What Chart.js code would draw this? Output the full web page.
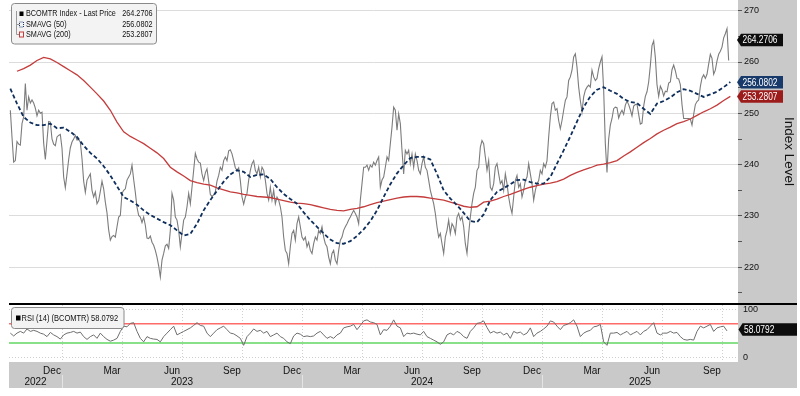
<!DOCTYPE html>
<html>
<head>
<meta charset="utf-8">
<script src="https://cdn.jsdelivr.net/npm/chart.js@4.4.1/dist/chart.umd.min.js"></script>
<style>
  html, body { margin: 0; padding: 0; background: #fff; }
  #wrap { position: relative; width: 800px; height: 396px; overflow: hidden; }
  #priceChart { position: absolute; left: 0; top: 0; }
  #rsiChart { position: absolute; left: 0; top: 303px; }
</style>
</head>
<body>
<div id="wrap">
  <canvas id="priceChart" width="797" height="303"></canvas>
  <canvas id="rsiChart" width="797" height="93"></canvas>
</div>
<script>
const FONT = "'Liberation Sans', Arial, sans-serif";
const MONTHS = ['Jan', 'Feb', 'Mar', 'Apr', 'May', 'Jun', 'Jul', 'Aug', 'Sep', 'Oct', 'Nov', 'Dec'];

// x is in months since 1 Jan 2022; first observation ~13 Oct 2022
const firstObs = 12 - 31 / 12;
const priceStep = 1 / 12;
const smaStep = 1 / 3;
const rsiStep = 1 / 6;
const xMin = 9.35;
const xMax = 45.8;

const price = [
  250.6, 245.4, 240.5, 240.8, 244.5, 244, 243.8, 248, 249.3, 255.8,
  250.6, 253.2, 252, 252.6, 252, 251, 249.5, 250.6, 250, 250.2,
  244.2, 241, 244.7, 248.4, 248.3, 245, 244, 243.7, 245.4, 245.7,
  245.9, 243.2, 237.6, 235.5, 238.2, 241, 243.3, 244.4, 245, 245.7,
  244.8, 244.9, 244.4, 241.2, 236.8, 234.6, 237, 237.6, 238.2, 235,
  233.7, 234.7, 232.4, 233, 234.8, 236.8, 235.3, 232.7, 230.6, 227.3,
  225.3, 226, 226.2, 225.9, 227.9, 229.8, 230.1, 234.4, 235, 235.3,
  237, 237.6, 238.2, 239.9, 237.1, 234.6, 231.7, 230.1, 229.8, 228.7,
  229.8, 228.2, 225.7, 225.6, 226.1, 224.9, 224.3, 223.3, 222, 220.3,
  218.1, 221.4, 222.7, 224.2, 224.5, 223.7, 227.2, 234.4, 233.1, 229.8,
  229.2, 227.2, 224, 226.6, 229.2, 229.8, 231.8, 234.4, 232.4, 235.6,
  238.9, 242.2, 241.1, 240.5, 240.3, 238.2, 236.9, 238.4, 239.2, 236.8,
  234.2, 233.8, 234.1, 234.7, 236.8, 237.9, 239.5, 238.9, 240.8, 241.5,
  240.8, 242.7, 242.9, 242.1, 240.8, 239.4, 238.9, 239.4, 236.9, 233.7,
  232.3, 233.7, 234.4, 237,
  238.9, 240.2, 240.8, 238.9, 238.2, 239.5, 237.6, 239.5, 238.9, 237,
  234.4, 233.1, 235.6, 233.1, 235, 232.4, 233.7, 233.1, 231.8, 229.8,
  225.9, 223.3, 222.7, 220.7, 224, 226.6, 227.2, 225.3, 228.5, 229.8,
  227.9, 225.9, 225.3, 225.9, 224, 224.9, 223.3, 222.7, 224.6, 225.9,
  225.3, 227.2, 226.6, 227.9, 225.9, 224.6, 224, 222, 220.7, 222.7,
  223.3, 221.4, 220.7, 223.3, 225.3, 225.9, 227.2, 227.9, 228.5, 229.2,
  229.8, 230.5, 231.1, 230.5, 229.8, 228.5, 233.1, 236.3, 239.5, 239.5,
  239.9, 238.9, 239.9, 239.5, 240.5, 239.9, 240.8, 241.5, 235.6, 237,
  237.6, 239.5, 241.5, 240.8, 244.1, 247.3, 251.2, 250.6, 246.7, 249.9,
  248, 242.8, 238.2, 242.8, 242.1, 242.8, 240.2, 242.1, 239.5, 242.1,
  240.8, 238.9, 238.2, 240.2, 241.5, 239.5, 238.9, 237, 235, 233.7,
  232.4, 230.5, 227.9, 225.9, 226.6, 224.6, 222.7, 225.9, 227.2, 229.2,
  226.6, 228.5, 227.9, 226.6, 229.8, 230.5, 229.2, 229.8, 227.9, 224.6,
  222.7, 226.6, 229.8, 232.4, 234.4, 235.6, 238.9, 239.5, 243.4, 244.7,
  244.1, 241.5, 238.9, 240.8,
  235.6, 235, 236.3, 239.5, 240.2, 238.2, 236.3, 236.9, 235, 238.2,
  236.3, 233.7, 231.8, 230.5, 233.7, 236.9, 237.9, 235.6, 236.3, 233.7,
  235, 236.9, 237.6, 240.2, 238.2, 236.3, 233.1, 235, 236.3, 236.9,
  238.9, 238.2, 240.2, 239.5, 240.8, 245.4, 249.3, 251.9, 252.2, 250.6,
  250.9, 248.6, 247, 248.6, 250.6, 252.5, 253.2, 256.4, 257.1, 258.4,
  261, 261.6, 259, 255.1, 252.5, 250.3, 253.2, 254.5, 255.1, 255.5,
  255.1, 258.4, 257.1, 256.4, 256.8, 258.7, 260, 261, 254.5, 244.1,
  238.5, 245, 247.7, 249, 250.9, 251.2, 251.1, 249.1, 250, 250.6,
  249.8, 251.6, 252.4, 251.7, 250.7, 249.5, 251.4, 251.7, 251.8, 249.8,
  247.9, 248.1, 251.4, 253.3, 254.2, 256.1, 259.3, 263.2, 264.1, 260.9,
  255.6, 253.3, 255.3, 254.6, 253.4, 254.3, 254.2, 255.9, 256.1, 258.5,
  259.4, 258.3, 256.8, 256.7, 255.6, 251.7, 249, 249, 249, 249,
  248.9, 247.7, 249.8, 251.7, 252.3, 252.6, 255.2, 256.9, 257.5, 256.8,
  257.6, 259.6, 261.5, 260.7, 257.6, 258.4, 260.2, 261.5, 262.1, 262.9,
  264.7, 265.5, 266.5, 260.3
];

const sma50 = [
  254.8, 251.9, 249.3, 248.2, 247.7, 247.7, 248, 247.1, 247.2, 246.4,
  245.4, 243.7, 242.3, 241.2, 239.7, 237.9, 235.8, 233.7, 233, 232.2,
  231.1, 230.2, 229.5, 228.8, 228.2, 227.2, 226.2, 226.5, 228.5, 231.1,
  233.1, 234.9, 236.7, 238.1, 238.9, 238.6,
  237.6, 238, 238.1, 237.2, 235.6, 234.3, 233.3, 232.4, 230.7, 229.2,
  227.9, 226.6, 225.4, 224.7, 224.6, 225.1, 226.1, 227.4, 229, 231.1,
  233.7, 236.2, 238.3, 239.9, 241.3, 241.5, 241.5, 241, 238.2, 235,
  233.4, 232.1, 230.6, 229, 228.8, 230.3,
  233.1, 234.7, 235.4, 236.2, 237, 237.1, 236.6, 236.3, 236.3, 237.6,
  240.2, 242.8, 245.5, 248.4, 251.2, 253.3, 254.6, 255.1, 254.4, 253.8,
  252.8, 252.2, 252, 250.9, 249.9, 251.9, 252.4, 253.1, 254.1, 254.7,
  254.4, 253.8, 253.2, 253.7, 254.2, 255.1, 256.1
];

const sma200 = [
  null, 258.2, 258.7, 259.4, 260.3, 260.9, 260.6, 259.9, 259.1, 258.3,
  257.5, 256.4, 255.1, 253.8, 252.4, 250.6, 248.3, 246.4, 245.5, 244.8,
  244.1, 243.2, 242.3, 241.2, 239.5, 238.6, 237.8, 236.9, 236.5, 236.2,
  236, 235.5, 235.1, 234.7, 234.5, 234.2,
  234, 233.8, 233.7, 233.6, 233.3, 233, 232.7, 232.5, 232.4, 232.2,
  231.9, 231.6, 231.3, 231.1, 231, 231.3, 231.5, 231.8, 232.2, 232.6,
  232.9, 233.2, 233.5, 233.7, 233.8, 233.8, 233.7, 233.5, 233.3, 233.1,
  232.7, 232.3, 231.9, 231.7, 231.8, 232.7,
  232.9, 233.3, 233.8, 234.2, 234.7, 235.2, 235.6, 235.9, 236.2, 236.4,
  236.7, 237.2, 237.9, 238.5, 239, 239.4, 239.9, 240.1, 240.4, 240.8,
  241.7, 242.5, 243.4, 244.3, 245.1, 246, 246.7, 247.3, 248, 248.4,
  248.9, 249.6, 250.3, 250.9, 251.6, 252.5, 253.3
];

const rsi = [
  50.4, 44.5, 50.4, 54, 50.4, 59.1, 54, 56.2, 54, 50.4,
  48.2, 43.1, 51.8, 46.7, 43.1, 38, 46.7, 50.4, 51.8, 54,
  50.4, 52.5, 43.1, 37.3, 43.1, 46.7, 39.5, 50.4, 43.1, 37.3,
  33.6, 35.8, 39.5, 54, 64.9, 63.5, 70.7, 72.2, 54, 39.5,
  32.2, 43.1, 39.5, 38, 37.3, 32.2, 43.1, 50.4, 57.6, 64.9,
  46.7, 50.4, 54, 57.6, 61.3, 66.4, 72.2, 66.4, 64.9, 50.4,
  43.1, 50.4, 57.6, 61.3, 64.9, 57.6, 50.4, 48.9, 44.5, 39.5,
  24.9, 43.1,
  50.4, 59.1, 54, 56.2, 50.4, 54, 43.1, 46.7, 50.4, 43.1,
  39.5, 32.2, 28.5, 44.5, 50.4, 48.2, 43.1, 44.5, 43.1, 44.5,
  50.4, 54, 46.7, 39.5, 43.1, 39.5, 46.7, 50.4, 61.3, 63.5,
  64.9, 68.5, 57.6, 66.4, 75.8, 78, 73.6, 72.2, 68.5, 46.7,
  57.6, 56.2, 64.9, 78, 64.9, 61.3, 43.1, 50.4, 48.9, 50.4,
  48.2, 46.7, 54, 43.1, 39.5, 35.8, 32.2, 27.1, 32.2, 46.7,
  50.4, 46.7, 54, 50.4, 43.1, 39.5, 54, 61.3, 70.7, 72.2,
  75.8, 62,
  50.4, 54, 50.4, 52.5, 46.7, 50.4, 39.5, 54, 50.4, 52.5,
  46.7, 50.4, 61.3, 43.1, 50.4, 54, 59.1, 64.9, 75.8, 73.6,
  64.9, 57.6, 66.4, 68.5, 72.2, 78, 64.9, 43.1, 50.4, 54,
  56.2, 63.5, 64.9, 68.5, 32.2, 24.9, 50.4, 50.4, 51.8, 46.7,
  50.4, 54, 46.7, 50.4, 54, 46.7, 54, 57.6, 64.9, 72.2,
  50.4, 46.7, 50.4, 50.4, 54, 50.4, 51.8, 43.1, 37.3, 35.8,
  37.3, 35.8, 54, 64.9, 61.3, 64.9, 68.5, 54, 61.3, 63.5,
  64.9, 55
];

const lastPrice = 264.2706;
const lastSma50 = 256.0802;
const lastSma200 = 253.2807;
const lastRsi = 58.0792;

const priceTicks = [215, 220, 225, 230, 235, 240, 245, 250, 255, 260, 265, 270];
const rsiTicks = [0, 100];
const rsiLevels = [70, 30];
const quarterTicks = [12, 15, 18, 21, 24, 27, 30, 33, 36, 39, 42, 45];
const years = [2022, 2023, 2024, 2025];

const PANEL = '#c9c9c9';
Chart.defaults.font.family = FONT;

const toPoints = (vals, step) => vals.map((v, i) => ({ x: firstObs + i * step, y: v }));

function noPadding(scale) {
  scale.paddingTop = 0;
  scale.paddingBottom = 0;
  scale.paddingLeft = 0;
  scale.paddingRight = 0;
}

// condensed text: the terminal font is narrower than Arial
function narrowText(ctx, text, x, y, size, align, squeeze) {
  ctx.save();
  ctx.translate(x, y);
  ctx.scale(squeeze, 1);
  ctx.font = size + 'px ' + FONT;
  ctx.textAlign = align;
  ctx.textBaseline = 'middle';
  ctx.fillText(text, 0, 0);
  ctx.restore();
}

function drawFlag(ctx, y, left, right, fill, text) {
  const h = 12.5;
  ctx.beginPath();
  ctx.moveTo(left - 3, y);
  ctx.lineTo(left + 1, y - h / 2);
  ctx.lineTo(right, y - h / 2);
  ctx.lineTo(right, y + h / 2);
  ctx.lineTo(left + 1, y + h / 2);
  ctx.closePath();
  ctx.fillStyle = fill;
  ctx.fill();
  ctx.fillStyle = '#fff';
  narrowText(ctx, text, left + 2.5, y + 0.5, 10.5, 'left', 0.8);
}

const priceDecor = {
  id: 'priceDecor',
  beforeDraw(chart) {
    const { ctx, chartArea } = chart;
    ctx.save();
    ctx.fillStyle = PANEL;
    ctx.fillRect(chartArea.right, 0, chart.width - chartArea.right, chart.height);
    ctx.restore();
  },
  afterDraw(chart) {
    const { ctx, chartArea } = chart;
    const y = chart.scales.y;
    ctx.save();

    // legend box
    ctx.beginPath();
    ctx.roundRect(11.5, 3.5, 145, 40.5, 3);
    ctx.fillStyle = '#f3f3f3';
    ctx.fill();
    ctx.strokeStyle = '#8a8a8a';
    ctx.lineWidth = 1;
    ctx.stroke();

    ctx.strokeStyle = '#999';
    ctx.beginPath();
    ctx.moveTo(16.5, 11);
    ctx.lineTo(16.5, 34.5);
    ctx.moveTo(16.5, 24.5);
    ctx.lineTo(19.5, 24.5);
    ctx.moveTo(16.5, 34.5);
    ctx.lineTo(19.5, 34.5);
    ctx.stroke();
    ctx.fillStyle = '#000';
    ctx.fillRect(19.5, 11.5, 4, 4.5);
    ctx.setLineDash([1, 1]);
    ctx.strokeStyle = '#173a6a';
    ctx.strokeRect(19.5, 22, 4, 5);
    ctx.setLineDash([]);
    ctx.strokeStyle = '#c43c3c';
    ctx.strokeRect(19.5, 32, 4, 5);

    const rows = [
      ['BCOMTR Index - Last Price', lastPrice, 13.8],
      ['SMAVG (50)', lastSma50, 24.6],
      ['SMAVG (200)', lastSma200, 34.6]
    ];
    ctx.fillStyle = '#111';
    rows.forEach(([label, value, ty]) => {
      narrowText(ctx, label, 26, ty, 9.3, 'left', 0.78);
      narrowText(ctx, value.toFixed(4), 152.5, ty, 9.3, 'right', 0.78);
    });

    // last value flags
    const left = chartArea.right + 2;
    drawFlag(ctx, y.getPixelForValue(lastPrice), left, 783, '#0d0d0d', lastPrice.toFixed(4));
    drawFlag(ctx, y.getPixelForValue(lastSma50), left, 783, '#173a6a', lastSma50.toFixed(4));
    drawFlag(ctx, y.getPixelForValue(lastSma200), left, 783, '#9c1b1b', lastSma200.toFixed(4));
    ctx.restore();
  }
};

const rsiDecor = {
  id: 'rsiDecor',
  beforeDraw(chart) {
    const { ctx, chartArea } = chart;
    const x = chart.scales.x;
    ctx.save();
    ctx.fillStyle = PANEL;
    ctx.fillRect(chartArea.right, chartArea.top, chart.width - chartArea.right, 85 - chartArea.top);
    ctx.fillRect(chartArea.left, chartArea.bottom, chart.width - chartArea.left, 85 - chartArea.bottom);
    ctx.fillStyle = '#000';
    ctx.fillRect(chartArea.left, 0, chart.width - chartArea.left, 2);
    ctx.strokeStyle = '#e4e4e4';
    ctx.lineWidth = 1;
    years.slice(1).forEach(yr => {
      const px = Math.round(x.getPixelForValue((yr - 2022) * 12)) + 0.5;
      ctx.beginPath();
      ctx.moveTo(px, 72);
      ctx.lineTo(px, 85);
      ctx.stroke();
    });
    ctx.restore();
  },
  afterDraw(chart) {
    const { ctx, chartArea } = chart;
    const x = chart.scales.x;
    const y = chart.scales.y;
    ctx.save();

    ctx.font = '10px ' + FONT;
    ctx.fillStyle = '#111';
    ctx.textAlign = 'center';
    ctx.textBaseline = 'middle';
    years.forEach(yr => {
      const from = Math.max(xMin, (yr - 2022) * 12);
      const to = Math.min(xMax, (yr - 2021) * 12);
      ctx.fillText(String(yr), x.getPixelForValue((from + to) / 2), 79);
    });

    // RSI legend
    ctx.beginPath();
    ctx.roundRect(11.5, 4.5, 112.5, 21, 3);
    ctx.fillStyle = '#f3f3f3';
    ctx.fill();
    ctx.strokeStyle = '#8a8a8a';
    ctx.stroke();
    ctx.fillStyle = '#000';
    ctx.fillRect(16, 12.5, 4.5, 5);
    ctx.fillStyle = '#111';
    narrowText(ctx, 'RSI (14) (BCOMTR) ' + lastRsi.toFixed(4), 21.5, 15.3, 9.4, 'left', 0.8);

    drawFlag(ctx, y.getPixelForValue(lastRsi), chartArea.right + 3.5, chart.width, '#0d0d0d', lastRsi.toFixed(4));
    ctx.restore();
  }
};

new Chart(document.getElementById('priceChart'), {
  type: 'line',
  data: {
    datasets: [
      {
        label: 'SMAVG (50)',
        data: toPoints(sma50, smaStep),
        borderColor: '#0f2f5c',
        borderWidth: 1.8,
        borderDash: [4, 2.5],
        pointRadius: 0
      },
      {
        label: 'SMAVG (200)',
        data: toPoints(sma200, smaStep),
        borderColor: '#c43c3c',
        borderWidth: 1.3,
        pointRadius: 0
      },
      {
        label: 'BCOMTR Index - Last Price',
        data: toPoints(price, priceStep),
        borderColor: '#7c7c7c',
        borderWidth: 1.1,
        pointRadius: 0
      }
    ]
  },
  options: {
    responsive: false,
    animation: false,
    devicePixelRatio: 1,
    layout: { padding: { left: 9, top: 0, right: 0, bottom: 0 } },
    plugins: { legend: { display: false }, tooltip: { enabled: false } },
    scales: {
      x: { type: 'linear', min: xMin, max: xMax, display: false },
      y: {
        position: 'right',
        min: 213.05,
        max: 272.08,
        afterBuildTicks: s => { s.ticks = priceTicks.map(v => ({ value: v })); },
        afterFit: s => { s.width = 59; noPadding(s); },
        border: { display: false },
        grid: {
          color: c => (c.tick && c.tick.value % 10 === 0 ? '#dcdcdc' : 'rgba(0,0,0,0)'),
          tickColor: '#555',
          tickLength: 4,
          lineWidth: 1
        },
        ticks: {
          autoSkip: false,
          padding: 2,
          color: '#111',
          font: { family: FONT, size: 9 },
          callback: v => (v % 10 === 0 ? String(v) : '')
        },
        title: {
          display: true,
          text: 'Index Level',
          color: '#111',
          padding: 0,
          font: { family: FONT, size: 13.5 }
        }
      }
    }
  },
  plugins: [priceDecor]
});

new Chart(document.getElementById('rsiChart'), {
  type: 'line',
  data: {
    datasets: [
      {
        label: 'RSI (14)',
        data: toPoints(rsi, rsiStep),
        borderColor: '#6e6e6e',
        borderWidth: 1,
        pointRadius: 0
      },
      {
        label: 'Overbought',
        data: [{ x: xMin, y: rsiLevels[0] }, { x: xMax, y: rsiLevels[0] }],
        borderColor: '#ff6a6a',
        borderWidth: 1.5,
        pointRadius: 0
      },
      {
        label: 'Oversold',
        data: [{ x: xMin, y: rsiLevels[1] }, { x: xMax, y: rsiLevels[1] }],
        borderColor: '#88e088',
        borderWidth: 2,
        pointRadius: 0
      }
    ]
  },
  options: {
    responsive: false,
    animation: false,
    devicePixelRatio: 1,
    layout: { padding: { left: 9, top: 2, right: 0, bottom: 8 } },
    plugins: { legend: { display: false }, tooltip: { enabled: false } },
    scales: {
      x: {
        type: 'linear',
        min: xMin,
        max: xMax,
        position: 'bottom',
        afterBuildTicks: s => { s.ticks = quarterTicks.map(v => ({ value: v })); },
        afterFit: s => { s.height = 26; noPadding(s); },
        border: { display: false, dash: [1, 2] },
        grid: { color: '#cfcfcf', drawTicks: false, borderDash: [1, 2] },
        ticks: {
          autoSkip: false,
          maxRotation: 0,
          labelOffset: -10,
          padding: 3,
          color: '#111',
          font: { family: FONT, size: 10 },
          callback: v => MONTHS[(v - 1) % 12]
        }
      },
      y: {
        position: 'right',
        min: -9.8,
        max: 109,
        afterBuildTicks: s => { s.ticks = rsiTicks.map(v => ({ value: v })); },
        afterFit: s => { s.width = 59; noPadding(s); },
        border: { display: false, dash: [1, 2] },
        grid: { color: '#cfcfcf', drawTicks: false, borderDash: [1, 2] },
        ticks: {
          autoSkip: false,
          padding: 5,
          color: '#111',
          font: { family: FONT, size: 9 }
        }
      }
    }
  },
  plugins: [rsiDecor]
});
</script>
</body>
</html>
